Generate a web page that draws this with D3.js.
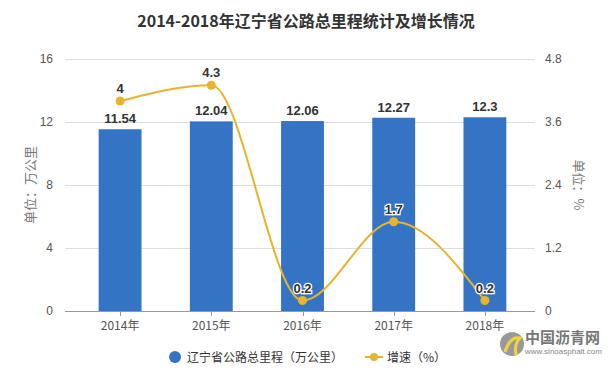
<!DOCTYPE html>
<html><head><meta charset="utf-8">
<script src="https://cdn.jsdelivr.net/npm/d3@7"></script>
<style>
body{margin:0;background:#fff;}
svg{display:block;font-family:"Noto Sans CJK SC","Liberation Sans",sans-serif;}
</style></head>
<body><svg id="c" width="612" height="373"></svg>
<script>
const categories = ["2014年","2015年","2016年","2017年","2018年"];
const mileage = [11.54, 12.04, 12.06, 12.27, 12.3];
const growth = [4, 4.3, 0.2, 1.7, 0.2];
const leftTicks = [0, 4, 8, 12, 16];
const rightTicks = [0, 1.2, 2.4, 3.6, 4.8];
const title = "2014-2018年辽宁省公路总里程统计及增长情况";
const seriesNames = ["辽宁省公路总里程（万公里）", "增速（%）"];

const svg = d3.select("#c");
const L = 65, R = 535, T = 59, B = 311;
const barColor = "#3574C4", lineColor = "#E8B42E";

const x = d3.scaleBand().domain(categories).range([74.5, 530.5]).paddingInner(0.53).paddingOuter(0.265);
const xc = d => x(d) + x.bandwidth()/2;
const y = d3.scaleLinear().domain([0,16]).range([B,T]);
const y2 = d3.scaleLinear().domain([0,4.8]).range([B,T]);

svg.append("text").attr("x",306).attr("y",27).attr("text-anchor","middle")
  .attr("font-size",16).attr("font-weight","bold").attr("fill","#333").text(title);

// grid
svg.append("g").selectAll("line").data(leftTicks.filter(d=>d>0)).join("line")
  .attr("x1",L).attr("x2",R).attr("y1",d=>y(d)+0.5).attr("y2",d=>y(d)+0.5)
  .attr("stroke","#ddd");

// axis tick labels
svg.append("g").selectAll("text").data(leftTicks).join("text")
  .attr("x",53).attr("y",d=>y(d)+4).attr("text-anchor","end")
  .attr("font-size",12).attr("fill","#555").attr("font-family","Liberation Sans, sans-serif").text(d=>d);
svg.append("g").selectAll("text").data(rightTicks).join("text")
  .attr("x",545).attr("y",d=>y2(d)+4).attr("text-anchor","start")
  .attr("font-size",12).attr("fill","#555").attr("font-family","Liberation Sans, sans-serif").text(d=>d);

svg.append("text").attr("transform","translate(35,185) rotate(-90)").attr("text-anchor","middle")
  .attr("font-size",13).attr("fill","#777").text("单位：万公里");
svg.append("text").attr("transform","translate(574,185) rotate(90)").attr("text-anchor","middle")
  .attr("font-size",13).attr("fill","#777").text("单位：%");

// bars
svg.append("g").selectAll("rect").data(mileage).join("rect")
  .attr("x",(d,i)=>x(categories[i])).attr("width",x.bandwidth())
  .attr("y",d=>y(d)).attr("height",d=>B-y(d)).attr("fill",barColor);

// x axis
svg.append("line").attr("x1",L).attr("x2",R).attr("y1",B+0.5).attr("y2",B+0.5).attr("stroke","#999");
svg.append("g").selectAll("line").data(categories).join("line")
  .attr("x1",d=>Math.round(xc(d))+0.5).attr("x2",d=>Math.round(xc(d))+0.5)
  .attr("y1",B).attr("y2",B+5).attr("stroke","#999");
svg.append("g").selectAll("text").data(categories).join("text")
  .attr("x",d=>xc(d)).attr("y",330).attr("text-anchor","middle")
  .attr("font-size",12).attr("fill","#555").text(d=>d);

// bar labels
svg.append("g").selectAll("text").data(mileage).join("text")
  .attr("x",(d,i)=>xc(categories[i])).attr("y",d=>y(d)-6).attr("text-anchor","middle")
  .attr("font-size",13).attr("font-weight","bold").attr("fill","#333")
  .attr("font-family","Liberation Sans, sans-serif").text(d=>d);

// line
const line = d3.line().x((d,i)=>xc(categories[i])).y(d=>y2(d)).curve(d3.curveMonotoneX);
svg.append("path").datum(growth).attr("d",line).attr("fill","none").attr("stroke",lineColor).attr("stroke-width",2);
svg.append("g").selectAll("circle").data(growth).join("circle")
  .attr("cx",(d,i)=>xc(categories[i])).attr("cy",d=>y2(d)).attr("r",4.5).attr("fill",lineColor);
svg.append("g").selectAll("text").data(growth).join("text")
  .attr("x",(d,i)=>xc(categories[i])).attr("y",d=>y2(d)-8).attr("text-anchor","middle")
  .attr("font-size",13).attr("font-weight","bold").attr("fill","#333")
  .attr("stroke","#fff").attr("stroke-width",2.5).attr("paint-order","stroke")
  .attr("font-family","Liberation Sans, sans-serif").text(d=>d);

// legend
const lg = svg.append("g");
lg.append("circle").attr("cx",175).attr("cy",357).attr("r",6).attr("fill",barColor);
lg.append("text").attr("x",187).attr("y",362).attr("font-size",12).attr("fill","#333").text(seriesNames[0]);
lg.append("line").attr("x1",365).attr("x2",383).attr("y1",357).attr("y2",357).attr("stroke",lineColor).attr("stroke-width",2);
lg.append("circle").attr("cx",374).attr("cy",357).attr("r",4).attr("fill",lineColor);
lg.append("text").attr("x",387).attr("y",362).attr("font-size",12).attr("fill","#333").text(seriesNames[1]);

// logo
const lo = svg.append("g");
lo.append("circle").attr("cx",512).attr("cy",344).attr("r",12).attr("fill","#999");
lo.append("path").attr("d","M505,352 Q510,336 520,338 Q514,344 516,355").attr("fill","none").attr("stroke","#F2D43A").attr("stroke-width",3);
lo.append("text").attr("x",525).attr("y",343).attr("font-size",15).attr("font-weight","bold").attr("fill","#777").text("中国沥青网");
lo.append("text").attr("x",525).attr("y",354).attr("font-size",8).attr("fill","#888").attr("font-family","Liberation Sans, sans-serif").text("www.sinoasphalt.com");
</script></body></html>
